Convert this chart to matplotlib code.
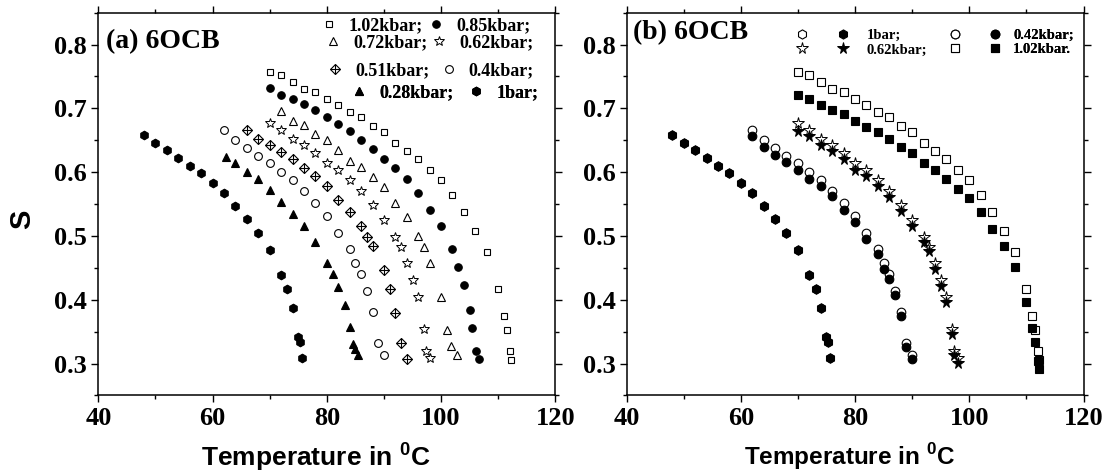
import matplotlib.pyplot as plt
from matplotlib.ticker import MultipleLocator

plt.rcParams['font.family'] = ['Liberation Serif']
plt.rcParams['font.weight'] = 'bold'
plt.rcParams['mathtext.fontset'] = 'custom'
plt.rcParams['mathtext.rm'] = 'Liberation Sans:bold'
plt.rcParams['mathtext.bf'] = 'Liberation Sans:bold'

# (a) order parameter of 6OCB at several pressures
t_1bar = [48, 50, 52, 54, 56, 58, 60, 62, 64, 66, 68, 70, 72, 73.1, 74, 75, 75.3, 75.6]
s_1bar = [0.658, 0.646, 0.635, 0.623, 0.609, 0.598, 0.583, 0.567, 0.547, 0.527, 0.505,
          0.478, 0.439, 0.417, 0.387, 0.342, 0.334, 0.309]

t_028 = [62.4, 64, 66, 68, 70.1, 72, 74, 76, 78, 80, 81, 81.9, 83.1, 84.1, 84.5, 84.9, 85.5]
s_028 = [0.624, 0.614, 0.600, 0.589, 0.572, 0.553, 0.535, 0.515, 0.491, 0.457, 0.441,
         0.420, 0.392, 0.357, 0.331, 0.323, 0.314]

t_040 = [62, 64, 66, 68, 70, 72, 74, 76, 78, 80, 82, 84, 85, 86, 87, 88, 89, 90]
s_040 = [0.666, 0.650, 0.638, 0.626, 0.615, 0.600, 0.588, 0.571, 0.551, 0.532, 0.505,
         0.479, 0.457, 0.440, 0.414, 0.381, 0.332, 0.314]

t_051 = [66, 68, 70, 72, 74, 76, 78, 80, 82, 84, 86, 87, 88, 90, 91, 92, 93, 94]
s_051 = [0.666, 0.652, 0.643, 0.631, 0.620, 0.607, 0.594, 0.578, 0.557, 0.537, 0.516,
         0.499, 0.485, 0.447, 0.417, 0.380, 0.332, 0.307]

t_062 = [70, 72, 74, 76, 78, 80, 82, 84, 86, 88, 90, 92, 93, 94, 95, 96, 97, 97.4, 98]
s_062 = [0.677, 0.666, 0.652, 0.643, 0.630, 0.614, 0.604, 0.588, 0.571, 0.548, 0.525,
         0.498, 0.482, 0.457, 0.431, 0.404, 0.354, 0.319, 0.308]

t_072 = [72, 74, 76, 78, 80, 82, 84, 86, 88, 90, 92, 94, 96, 97, 98, 100, 101, 101.7, 102.8]
s_072 = [0.696, 0.681, 0.674, 0.660, 0.650, 0.635, 0.617, 0.608, 0.592, 0.576, 0.552,
         0.530, 0.500, 0.483, 0.457, 0.405, 0.352, 0.328, 0.313]

t_085 = [70, 72, 74, 76, 78, 80, 82, 84, 86, 88, 90, 92, 94, 96, 98, 100, 102, 103, 104,
         105, 105.5, 106.1, 106.6]
s_085 = [0.732, 0.721, 0.715, 0.707, 0.698, 0.686, 0.676, 0.664, 0.651, 0.637, 0.620,
         0.607, 0.589, 0.568, 0.541, 0.516, 0.479, 0.452, 0.423, 0.384, 0.355, 0.319, 0.307]

t_102 = [70, 72, 74, 76, 78, 80, 82, 84, 86, 88, 90, 92, 94, 96, 98, 100, 102, 104, 106,
         108, 110, 111, 111.5, 112, 112.2]
s_102 = [0.757, 0.752, 0.741, 0.731, 0.725, 0.715, 0.705, 0.695, 0.686, 0.672, 0.663,
         0.646, 0.633, 0.620, 0.603, 0.587, 0.564, 0.538, 0.508, 0.475, 0.417, 0.374,
         0.352, 0.319, 0.305]

# (b) second set of values (filled symbols)
s_1bar_b = s_1bar
s_042_b = [0.656, 0.639, 0.627, 0.616, 0.604, 0.590, 0.578, 0.562, 0.541, 0.522, 0.496,
           0.471, 0.449, 0.432, 0.408, 0.375, 0.326, 0.307]
s_062_b = [0.664, 0.656, 0.643, 0.633, 0.620, 0.603, 0.594, 0.578, 0.561, 0.539, 0.515,
           0.490, 0.476, 0.448, 0.422, 0.397, 0.347, 0.313, 0.301]
s_102_b = [0.721, 0.715, 0.706, 0.697, 0.691, 0.681, 0.671, 0.663, 0.652, 0.640, 0.630,
           0.615, 0.603, 0.590, 0.574, 0.560, 0.537, 0.511, 0.484, 0.452, 0.396, 0.356,
           0.334, 0.304, 0.291]

W, H = 1106, 475
fig = plt.figure(figsize=(W / 100, H / 100), dpi=100)
ax1 = fig.add_axes([0.0889, 0.1674, 0.4132, 0.8059])
ax2 = fig.add_axes([0.5665, 0.1674, 0.4132, 0.8059])


def pt(x, y):
    return (x / W, 1 - y / H)


def pts(ax, t, s, marker, ms, filled, mew=0.8, z=2):
    fc = 'black' if filled else 'white'
    line, = ax.plot(t, s, linestyle='none', marker=marker, ms=ms, mfc=fc,
                    mec='black', mew=mew, zorder=z)
    return line


h102 = pts(ax1, t_102, s_102, 's', 5.0, False)
h085 = pts(ax1, t_085, s_085, 'o', 5.4, True)
h072 = pts(ax1, t_072, s_072, '^', 6.2, False)
h062 = pts(ax1, t_062, s_062, '*', 7.5, False, mew=0.7)
h051a = pts(ax1, t_051, s_051, 'D', 5.0, False)
h051b = pts(ax1, t_051, s_051, '+', 7.6, False, mew=0.8)
h040 = pts(ax1, t_040, s_040, 'o', 5.6, False)
h028 = pts(ax1, t_028, s_028, '^', 6.2, True)
h001 = pts(ax1, t_1bar, s_1bar, 'h', 6.2, True)

rows_a = [
    ([h102, h085], ['1.02kbar;', '0.85kbar;'], 320, 26, 0.22),
    ([h072, h062], ['0.72kbar;', '0.62kbar;'], 324, 43, 0.18),
    ([(h051a, h051b), h040], ['0.51kbar;', '0.4kbar;'], 326, 71, 0.6),
    ([h028, h001], ['0.28kbar;', '1bar;'], 350, 93, 0.78),
]
for handles, labels, x0, y0, cs in rows_a:
    leg = ax1.legend(handles, labels, ncol=2, frameon=False, fontsize=13,
                     loc='center left', bbox_to_anchor=pt(x0, y0),
                     bbox_transform=fig.transFigure, borderpad=0, borderaxespad=0,
                     handlelength=1.0, handletextpad=0.6, columnspacing=cs)
    ax1.add_artist(leg)

# panel (b): open = first set, filled = second set
o1 = pts(ax2, t_1bar, s_1bar, 'h', 6.6, False)
f1 = pts(ax2, t_1bar, s_1bar_b, 'h', 6.6, True)
o42 = pts(ax2, t_040, s_040, 'o', 6.2, False)
f42 = pts(ax2, t_040, s_042_b, 'o', 6.2, True)
o62 = pts(ax2, t_062, s_062, '*', 8.5, False, mew=0.7)
f62 = pts(ax2, t_062, s_062_b, '*', 8.5, True, mew=0.7)
o102 = pts(ax2, t_102, s_102, 's', 5.4, False)
f102 = pts(ax2, t_102, s_102_b, 's', 5.4, True)

for handles, labels, x0, tp, cs in [
        ([o1, o62, f1, f62], ['', '', '1bar;', '0.62kbar;'], 794.4, 1.14, 0.66),
        ([o42, o102, f42, f102], ['', '', '0.42kbar;', '1.02kbar.'], 947.7, 0.75, 0.99)]:
    leg = ax2.legend(handles, labels, ncol=2, frameon=False, fontsize=10.5,
                     loc='center left', bbox_to_anchor=pt(x0, 42.5),
                     bbox_transform=fig.transFigure, borderpad=0, borderaxespad=0,
                     handlelength=1.0, handletextpad=tp, columnspacing=cs,
                     labelspacing=0.1)
    ax2.add_artist(leg)

for ax, fs in ((ax1, 19), (ax2, 17.5)):
    ax.set_xlim(40, 120)
    ax.set_ylim(0.25, 0.85)
    ax.xaxis.set_major_locator(MultipleLocator(20))
    ax.xaxis.set_minor_locator(MultipleLocator(10))
    ax.yaxis.set_major_locator(MultipleLocator(0.1))
    ax.yaxis.set_minor_locator(MultipleLocator(0.05))
    ax.tick_params(which='both', direction='out', top=True, right=True, width=1.0)
    ax.tick_params(which='major', length=5, labelsize=19, pad=3)
    ax.tick_params(which='minor', length=3)
    for sp in ax.spines.values():
        sp.set_linewidth(1.1)
    ax.set_xlabel(r'Temperature in $^{0}$C', family='Liberation Sans', fontsize=fs,
                  fontweight='bold', va='center')

ax1.xaxis.set_label_coords(0.476, -0.16)
ax2.xaxis.set_label_coords(0.489, -0.16)
ax1.set_ylabel('S', family='Liberation Sans', fontsize=21, fontweight='bold',
               va='center')
ax1.yaxis.set_label_coords(-0.167, 0.46)

ax1.text(0.017, 0.924, '(a) 6OCB', transform=ax1.transAxes, fontsize=20,
         va='center', ha='left')
ax2.text(0.014, 0.947, '(b) 6OCB', transform=ax2.transAxes, fontsize=20,
         va='center', ha='left')

fig.savefig('out.png', dpi=100)
